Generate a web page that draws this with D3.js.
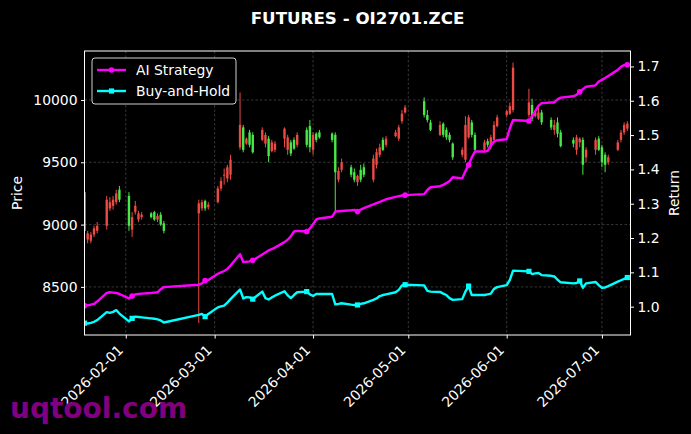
<!DOCTYPE html>
<html><head><meta charset="utf-8">
<script src="https://cdn.jsdelivr.net/npm/d3@7"></script>
<style>html,body{margin:0;padding:0;background:#000;}svg{display:block;}</style>
</head><body>
<svg id="chart" width="691" height="434"></svg>
<script>
// ---------------- data ----------------
const title = "FUTURES - OI2701.ZCE";
const dates = ["2026-01-19","2026-01-20","2026-01-21","2026-01-22","2026-01-23","2026-01-26","2026-01-27","2026-01-28","2026-01-29","2026-01-30",
"2026-02-02","2026-02-03","2026-02-04","2026-02-05","2026-02-06","2026-02-09","2026-02-10","2026-02-11","2026-02-12","2026-02-13",
"2026-02-24","2026-02-25","2026-02-26","2026-02-27","2026-03-02","2026-03-03","2026-03-04","2026-03-05","2026-03-06","2026-03-09",
"2026-03-10","2026-03-11","2026-03-12","2026-03-13","2026-03-16","2026-03-17","2026-03-18","2026-03-19","2026-03-20","2026-03-23",
"2026-03-24","2026-03-25","2026-03-26","2026-03-27","2026-03-30","2026-03-31","2026-04-01","2026-04-02","2026-04-03","2026-04-07",
"2026-04-08","2026-04-09","2026-04-10","2026-04-13","2026-04-14","2026-04-15","2026-04-16","2026-04-17","2026-04-20","2026-04-21",
"2026-04-22","2026-04-23","2026-04-24","2026-04-27","2026-04-28","2026-04-29","2026-04-30","2026-05-06","2026-05-07","2026-05-08",
"2026-05-11","2026-05-12","2026-05-13","2026-05-14","2026-05-15","2026-05-18","2026-05-19","2026-05-20","2026-05-21","2026-05-22",
"2026-05-25","2026-05-26","2026-05-27","2026-05-28","2026-05-29","2026-06-01","2026-06-02","2026-06-03","2026-06-08","2026-06-09",
"2026-06-10","2026-06-11","2026-06-12","2026-06-15","2026-06-16","2026-06-17","2026-06-18","2026-06-22","2026-06-23","2026-06-24",
"2026-06-25","2026-06-26","2026-06-29","2026-06-30","2026-07-01","2026-07-02","2026-07-03","2026-07-06","2026-07-07","2026-07-08","2026-07-09"];
const openP = [9260,8880,8870,8920,8950,8990,9130,9150,9180,9280,
9230,8960,9100,9040,9060,9090,9100,9040,9080,9010,
9090,9130,9190,9140,9180,9290,9395,9370,9400,9620,
9780,9650,9740,9720,9680,9650,9690,9590,9600,9690,
9600,9660,9680,9640,9760,9790,9600,9730,9740,9730,
9720,9360,9440,9460,9420,9340,9440,9460,9360,9480,
9560,9680,9640,9710,9690,9830,9900,9990,9880,9820,
9720,9810,9760,9720,9650,9560,9520,9700,9820,9720,
9600,9670,9620,9680,9790,9880,9890,9920,9880,9960,
9870,9850,9900,9840,9760,9820,9740,9680,9600,9660,
9680,9540,9600,9690,9620,9560,9500,9600,9680,9740,9770];
const highP = [9300,8950,8940,8990,9020,9230,9220,9230,9280,9310,
9260,9100,9190,9110,9100,9100,9110,9090,9100,9030,
9200,9200,9200,9180,9310,9380,9450,9480,9560,10060,
9800,9700,9760,9740,9780,9740,9710,9680,9670,9780,
9720,9680,9700,9740,9780,9840,9740,9740,9760,9740,
9740,9460,9530,9480,9450,9400,9480,9490,9560,9610,
9650,9700,9710,9760,9800,9920,9960,10020,9920,9840,
9830,9820,9780,9740,9660,9620,9870,9880,9840,9740,
9680,9690,9720,9830,9880,9920,9980,10300,10090,10010,
9920,9940,9920,9860,9840,9860,9760,9700,9720,9700,
9700,9620,9700,9710,9640,9580,9560,9680,9760,9820,9830];
const lowP = [8880,8850,8850,8900,8930,8960,9110,9120,9160,9180,
8950,8900,9080,9020,9040,9050,9030,9020,8990,8930,
8210,9110,9110,9120,9170,9270,9320,9340,9360,9600,
9580,9640,9620,9570,9670,9620,9500,9580,9580,9620,
9560,9550,9600,9620,9620,9580,9560,9660,9690,9660,
9100,9340,9420,9380,9340,9310,9340,9380,9340,9450,
9540,9590,9620,9700,9670,9810,9890,9860,9820,9750,
9710,9700,9680,9660,9520,9540,9500,9690,9700,9590,
9580,9620,9600,9660,9780,9860,9880,9900,9860,9830,
9860,9840,9800,9760,9720,9700,9620,9620,9560,9620,
9400,9500,9560,9590,9460,9420,9480,9590,9660,9720,9750];
const closeP = [8950,8930,8920,8970,8990,9200,9180,9200,9250,9200,
8990,9060,9150,9090,9080,9060,9040,9070,9000,8950,
9170,9180,9130,9160,9290,9350,9400,9460,9520,9800,
9600,9690,9640,9580,9760,9720,9550,9660,9650,9770,
9700,9570,9610,9720,9640,9620,9720,9680,9700,9680,
9420,9430,9500,9400,9360,9390,9360,9400,9530,9580,
9620,9600,9690,9740,9780,9890,9940,9880,9840,9760,
9800,9720,9700,9680,9540,9600,9800,9860,9720,9600,
9660,9640,9700,9800,9860,9910,9950,10260,9980,9850,
9900,9900,9820,9780,9800,9730,9630,9650,9700,9690,
9480,9600,9680,9600,9500,9480,9540,9660,9740,9800,9810];
const strategy = [1.003,1.004,1.006,1.008,1.015,1.040,1.042,1.041,1.040,1.037,
1.024,1.031,1.036,1.037,1.038,1.040,1.041,1.042,1.051,1.057,
1.064,1.068,1.076,1.078,1.096,1.100,1.104,1.110,1.120,1.153,
1.130,1.131,1.132,1.135,1.152,1.158,1.164,1.168,1.172,1.188,
1.195,1.205,1.219,1.221,1.219,1.228,1.240,1.254,1.257,1.262,
1.277,1.278,1.279,1.281,1.282,1.277,1.283,1.287,1.298,1.302,
1.305,1.309,1.313,1.320,1.322,1.324,1.325,1.328,1.340,1.348,
1.351,1.355,1.360,1.366,1.377,1.374,1.395,1.413,1.435,1.452,
1.452,1.454,1.470,1.481,1.485,1.488,1.520,1.544,1.541,1.555,
1.570,1.585,1.593,1.595,1.595,1.604,1.609,1.613,1.617,1.626,
1.634,1.641,1.645,1.656,1.661,1.666,1.672,1.690,1.699,1.704,1.705];
const buyHold = [0.952,0.951,0.953,0.956,0.961,0.984,0.982,0.985,0.990,0.980,
0.957,0.966,0.971,0.970,0.969,0.966,0.965,0.963,0.960,0.954,
0.976,0.979,0.971,0.979,0.998,1.001,1.003,1.012,1.022,1.050,
1.024,1.028,1.027,1.022,1.044,1.025,1.021,1.027,1.032,1.045,
1.033,1.025,1.034,1.042,1.044,1.036,1.031,1.037,1.037,1.037,
1.007,1.008,1.010,1.006,1.005,1.005,1.008,1.010,1.020,1.024,
1.031,1.034,1.036,1.042,1.049,1.062,1.064,1.062,1.046,1.044,
1.043,1.038,1.034,1.025,1.020,1.022,1.044,1.060,1.034,1.034,
1.034,1.036,1.038,1.052,1.057,1.063,1.078,1.105,1.103,1.095,
1.097,1.098,1.092,1.090,1.088,1.079,1.071,1.068,1.069,1.075,
1.055,1.068,1.072,1.063,1.055,1.056,1.060,1.073,1.077,1.081,1.085];
const priceTicks = [8500, 9000, 9500, 10000];
const returnTicks = [1.0, 1.1, 1.2, 1.3, 1.4, 1.5, 1.6, 1.7];
const dateTicks = ["2026-02-01","2026-03-01","2026-04-01","2026-05-01","2026-06-01","2026-07-01"];
const seriesNames = ["AI Strategy", "Buy-and-Hold"];
const watermark = "uqtool.com";

// ---------------- layout ----------------
const L = 84.5, R = 630.5, T = 51, B = 335;
const FONT = "DejaVu Sans, sans-serif";
const FS = "13.9px";
const UP = "#ec4a44", DOWN = "#48e848";
const MAG = "#ff00ff", CYAN = "#00ffff";
const parse = d3.utcParse("%Y-%m-%d");
const fmt = d3.utcFormat("%Y-%m-%d");
const D = dates.map(parse);

const x = d3.scaleUtc().domain([parse("2026-01-19"), parse("2026-07-10")]).range([L, R]);
const yP = d3.scaleLinear().domain([8114, 10393]).range([B, T]);
const yR = d3.scaleLinear().domain([0.9175, 1.745]).range([B, T]);

const svg = d3.select("#chart");
svg.append("rect").attr("width", 691).attr("height", 434).attr("fill", "#000");

svg.append("defs").append("clipPath").attr("id", "clip")
  .append("rect").attr("x", L).attr("y", T).attr("width", R - L).attr("height", B - T);

// grid
const grid = svg.append("g").attr("stroke", "#5a5a5a").attr("stroke-width", 0.6).attr("stroke-dasharray", "2.5,2");
dateTicks.map(parse).forEach(d => grid.append("line").attr("x1", x(d)).attr("x2", x(d)).attr("y1", T).attr("y2", B));
priceTicks.forEach(v => grid.append("line").attr("x1", L).attr("x2", R).attr("y1", yP(v)).attr("y2", yP(v)));

// candles
const plot = svg.append("g").attr("clip-path", "url(#clip)");
const dayW = x(parse("2026-01-20")) - x(parse("2026-01-19"));
const bw = dayW * 0.75;
D.forEach((d, i) => {
  const up = closeP[i] >= openP[i];
  const col = up ? UP : DOWN;
  const cx = x(d);
  plot.append("line").attr("x1", cx).attr("x2", cx).attr("y1", yP(highP[i])).attr("y2", yP(lowP[i]))
    .attr("stroke", col).attr("stroke-width", 1);
  const top = yP(Math.max(openP[i], closeP[i])), bot = yP(Math.min(openP[i], closeP[i]));
  plot.append("rect").attr("x", cx - bw / 2).attr("y", top).attr("width", bw).attr("height", Math.max(1, bot - top))
    .attr("fill", col);
});

// lines
const lineS = d3.line().x((d, i) => x(D[i])).y(d => yR(d));
plot.append("path").datum(strategy).attr("d", lineS).attr("fill", "none").attr("stroke", MAG).attr("stroke-width", 2.4).attr("stroke-linejoin", "round");
plot.append("path").datum(buyHold).attr("d", lineS).attr("fill", "none").attr("stroke", CYAN).attr("stroke-width", 2.4).attr("stroke-linejoin", "round");
const every = 11;
strategy.forEach((v, i) => { if (i % every === 0) plot.append("circle").attr("cx", x(D[i])).attr("cy", yR(v)).attr("r", 2.8).attr("fill", MAG); });
buyHold.forEach((v, i) => { if (i % every === 0) plot.append("rect").attr("x", x(D[i]) - 2.6).attr("y", yR(v) - 2.6).attr("width", 5.2).attr("height", 5.2).attr("fill", CYAN); });

// frame
svg.append("rect").attr("x", L).attr("y", T).attr("width", R - L).attr("height", B - T)
  .attr("fill", "none").attr("stroke", "#fff").attr("stroke-width", 1);

// axes
function styleAxis(g) {
  g.select(".domain").remove();
  g.selectAll(".tick line").attr("stroke", "#fff");
  g.selectAll(".tick text").attr("fill", "#fff").attr("font-family", FONT).attr("font-size", FS);
}
svg.append("g").attr("transform", `translate(${L},0)`)
  .call(d3.axisLeft(yP).tickValues(priceTicks).tickSize(3.5).tickPadding(3.5).tickFormat(d3.format("d")))
  .call(styleAxis);
svg.append("g").attr("transform", `translate(${R},0)`)
  .call(d3.axisRight(yR).tickValues(returnTicks).tickSize(3.5).tickPadding(3.5).tickFormat(d3.format(".1f")))
  .call(styleAxis);
const xa = svg.append("g").attr("transform", `translate(0,${B})`)
  .call(d3.axisBottom(x).tickValues(dateTicks.map(parse)).tickSize(3.5).tickFormat(fmt))
  .call(styleAxis);
xa.selectAll(".tick text").attr("text-anchor", "end").attr("dy", null).attr("y", null)
  .attr("transform", "translate(-2.3,16) rotate(-45)");

// axis labels
svg.append("text").attr("transform", `translate(21.5,${(T + B) / 2}) rotate(-90)`).attr("text-anchor", "middle")
  .attr("fill", "#fff").attr("font-family", FONT).attr("font-size", FS).text("Price");
svg.append("text").attr("transform", `translate(679,${(T + B) / 2}) rotate(-90)`).attr("text-anchor", "middle")
  .attr("fill", "#fff").attr("font-family", FONT).attr("font-size", FS).text("Return");

// title
svg.append("text").attr("x", (L + R) / 2).attr("y", 23.5).attr("text-anchor", "middle")
  .attr("fill", "#fff").attr("font-family", FONT).attr("font-weight", "bold").attr("font-size", "16.7px").text(title);

// legend
const lg = svg.append("g");
lg.append("rect").attr("x", 92).attr("y", 58).attr("width", 144).attr("height", 46).attr("rx", 3)
  .attr("fill", "#000").attr("stroke", "#d0d0d0").attr("stroke-width", 1);
[[MAG, "circle"], [CYAN, "square"]].forEach(([c, m], i) => {
  const yy = 70 + i * 21;
  lg.append("line").attr("x1", 97).attr("x2", 126).attr("y1", yy).attr("y2", yy).attr("stroke", c).attr("stroke-width", 2.4);
  if (m === "circle") lg.append("circle").attr("cx", 111.5).attr("cy", yy).attr("r", 2.8).attr("fill", c);
  else lg.append("rect").attr("x", 111.5 - 2.6).attr("y", yy - 2.6).attr("width", 5.2).attr("height", 5.2).attr("fill", c);
  lg.append("text").attr("x", 136).attr("y", yy + 5).attr("fill", "#fff").attr("font-family", FONT).attr("font-size", FS).text(seriesNames[i]);
});

// watermark
svg.append("text").attr("x", 10).attr("y", 418).attr("fill", "#800080").attr("font-family", FONT)
  .attr("font-weight", "bold").attr("font-size", "28px").text(watermark);
</script>
</body></html>
